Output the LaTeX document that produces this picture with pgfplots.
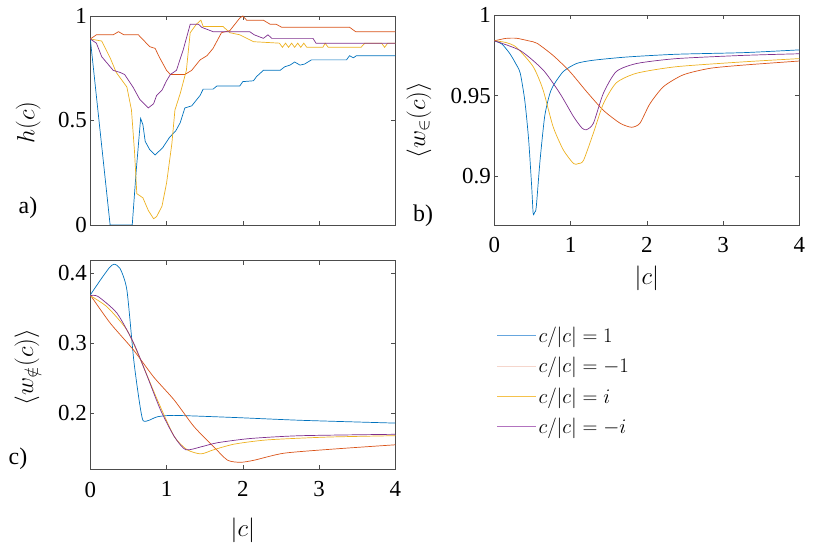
\documentclass[border=0pt]{standalone}
\usepackage{pgfplots}
\pgfplotsset{compat=1.18}
\usepackage{fontspec}
\setmainfont{Liberation Serif}
\definecolor{mblue}{rgb}{0,0.447,0.741}
\definecolor{mred}{rgb}{0.85,0.325,0.098}
\definecolor{myellow}{rgb}{0.929,0.694,0.125}
\definecolor{mpurple}{rgb}{0.494,0.184,0.556}
\definecolor{lblue}{rgb}{0.40,0.65,0.87}
\definecolor{lred}{rgb}{0.96,0.84,0.80}
\definecolor{lyellow}{rgb}{0.96,0.76,0.30}
\definecolor{lpurple}{rgb}{0.70,0.45,0.75}
\pgfplotsset{mystyle/.style={scale only axis, width=305bp, height=209bp,
  xmin=0, xmax=4, xtick={0,1,2,3,4}, anchor=south west,
  axis line style={black!70, line width=0.6bp},
  every tick/.style={black!70, line width=0.6bp}, major tick length=4bp,
  tick label style={font=\fontsize{23}{27}\selectfont},
  xticklabel style={yshift=-9bp},
  /pgf/number format/assume math mode=true,
  label style={font=\fontsize{27}{32}\selectfont},
  every axis plot/.append style={line width=0.7bp}}}

\pgfplotstableread{
x y
0 0.89
0.26 0.0
0.55 0.0
0.60 0.25
0.66 0.51
0.69 0.48
0.72 0.40
0.78 0.36
0.85 0.335
0.95 0.37
1.04 0.42
1.12 0.45
1.18 0.49
1.24 0.56
1.33 0.57
1.44 0.62
1.48 0.65
1.61 0.65
1.66 0.665
1.96 0.665
2.00 0.686
2.14 0.69
2.18 0.71
2.27 0.74
2.49 0.74
2.55 0.757
2.62 0.765
2.68 0.78
2.75 0.765
2.81 0.77
2.90 0.79
3.36 0.79
3.40 0.81
3.45 0.80
3.49 0.81
4.00 0.81
}\aBlue
\pgfplotstableread{
x y
0 0.89
0.08 0.91
0.30 0.91
0.37 0.925
0.44 0.91
0.63 0.91
0.78 0.853
0.85 0.845
0.91 0.80
1.00 0.74
1.05 0.72
1.24 0.72
1.33 0.74
1.44 0.79
1.53 0.81
1.61 0.845
1.72 0.92
1.83 0.93
1.96 0.99
2.00 1.00
2.05 0.98
2.27 0.98
2.36 0.96
2.44 0.96
2.51 0.946
3.40 0.946
3.48 0.925
4.00 0.925
}\aRed
\pgfplotstableread{
x y
0 0.89
0.15 0.88
0.26 0.80
0.34 0.73
0.48 0.66
0.54 0.55
0.58 0.35
0.61 0.15
0.69 0.13
0.76 0.07
0.83 0.03
0.87 0.04
0.94 0.09
1.00 0.20
1.07 0.39
1.11 0.55
1.18 0.63
1.26 0.74
1.31 0.92
1.39 0.96
1.45 0.98
1.48 0.95
1.74 0.95
1.83 0.92
1.96 0.91
2.14 0.877
2.48 0.87
2.52 0.85
2.56 0.87
2.60 0.85
2.64 0.87
2.68 0.85
2.72 0.87
2.76 0.85
2.80 0.87
2.84 0.85
3.05 0.85
3.08 0.87
3.12 0.85
3.55 0.85
3.60 0.87
3.82 0.87
3.86 0.85
3.90 0.87
4.00 0.87
}\aYellow
\pgfplotstableread{
x y
0 0.89
0.08 0.87
0.15 0.805
0.30 0.74
0.39 0.73
0.45 0.72
0.56 0.66
0.65 0.60
0.76 0.56
0.83 0.58
0.87 0.62
0.94 0.645
1.00 0.69
1.05 0.72
1.13 0.74
1.22 0.84
1.31 0.96
1.42 0.96
1.46 0.946
1.61 0.925
2.09 0.925
2.15 0.91
2.27 0.893
2.33 0.91
2.38 0.893
2.92 0.893
2.96 0.87
4.00 0.87
}\aPurple

\pgfplotstableread{
x y
0 0.984
0.10 0.982
0.205 0.976
0.28 0.970
0.34 0.964
0.40 0.947
0.45 0.923
0.49 0.894
0.51 0.877
0.53 0.878
0.55 0.881
0.60 0.910
0.66 0.937
0.72 0.950
0.77 0.956
0.905 0.965
1.08 0.970
1.30 0.972
1.74 0.974
2.39 0.9757
3.27 0.9767
4.00 0.9784
}\bBlue
\pgfplotstableread{
x y
0 0.984
0.15 0.9855
0.29 0.9856
0.45 0.984
0.56 0.9825
0.77 0.975
0.99 0.965
1.21 0.9526
1.43 0.941
1.65 0.933
1.80 0.9305
1.91 0.933
2.04 0.945
2.22 0.9557
2.48 0.963
2.83 0.967
3.27 0.969
4.00 0.9715
}\bRed
\pgfplotstableread{
x y
0 0.984
0.15 0.983
0.29 0.980
0.51 0.968
0.64 0.9536
0.77 0.931
0.905 0.9165
1.04 0.908
1.10 0.908
1.17 0.910
1.30 0.927
1.43 0.945
1.60 0.958
1.87 0.964
2.39 0.968
3.27 0.971
4.00 0.973
}\bYellow
\pgfplotstableread{
x y
0 0.984
0.34 0.978
0.64 0.966
0.86 0.9515
1.04 0.937
1.15 0.930
1.21 0.929
1.30 0.933
1.43 0.9515
1.60 0.965
1.87 0.970
2.39 0.973
3.27 0.975
4.00 0.976
}\bPurple

\pgfplotstableread{
x y
0 0.369
0.13 0.39
0.25 0.408
0.31 0.413
0.39 0.407
0.48 0.376
0.57 0.276
0.64 0.219
0.69 0.19
0.77 0.19
0.88 0.195
1.10 0.197
1.89 0.194
2.76 0.19
4.00 0.186
}\cBlue
\pgfplotstableread{
x y
0 0.369
0.26 0.329
0.57 0.29
0.83 0.252
1.10 0.219
1.36 0.181
1.62 0.152
1.80 0.133
1.97 0.130
2.15 0.133
2.54 0.143
3.20 0.149
4.00 0.155
}\cRed
\pgfplotstableread{
x y
0 0.368
0.22 0.352
0.48 0.319
0.66 0.276
0.88 0.219
1.10 0.167
1.27 0.148
1.45 0.142
1.62 0.148
1.89 0.156
2.32 0.162
3.10 0.166
4.00 0.168
}\cYellow
\pgfplotstableread{
x y
0 0.368
0.10 0.367
0.35 0.343
0.57 0.30
0.75 0.252
0.92 0.205
1.10 0.167
1.25 0.148
1.45 0.152
1.67 0.158
2.10 0.164
2.76 0.168
4.00 0.170
}\cPurple

\begin{document}
\begin{tikzpicture}[x=1bp,y=1bp]
\path[use as bounding box] (0,0) rectangle (830,546);
\coordinate (pa) at (90.3,321);
\coordinate (pb) at (494.3,321);
\coordinate (pc) at (90.3,76.7);

% panel a
\begin{axis}[mystyle, at={(pa)}, ymin=0, ymax=1, ytick={0,0.5,1},
  xticklabels={}, ylabel={$h(c)$},
  ylabel style={at={(axis description cs:-0.204,0.49)}, anchor=center}]
\addplot[mblue, sharp plot] table {\aBlue};
\addplot[mred, sharp plot] table {\aRed};
\addplot[myellow, sharp plot] table {\aYellow};
\addplot[mpurple, sharp plot] table {\aPurple};
\end{axis}

% panel b
\begin{axis}[mystyle, at={(pb)}, height=210bp, ymin=0.87, ymax=1,
  ytick={0.9,0.95,1}, ylabel={$\langle w_{\in}(c)\rangle$}, xlabel={$|c|$},
  ylabel style={at={(axis description cs:-0.247,0.5)}, anchor=center},
  xlabel style={at={(axis description cs:0.5,-0.252)}, anchor=center}]
\addplot[mblue, smooth, tension=0.4] table {\bBlue};
\addplot[mred, smooth, tension=0.4] table {\bRed};
\addplot[myellow, smooth, tension=0.4] table {\bYellow};
\addplot[mpurple, smooth, tension=0.4] table {\bPurple};
\end{axis}

% panel c
\begin{axis}[mystyle, at={(pc)}, height=208.6bp, ymin=0.12, ymax=0.418,
  ytick={0.2,0.3,0.4}, ylabel={$\langle w_{\notin}(c)\rangle$}, xlabel={$|c|$},
  ylabel style={at={(axis description cs:-0.208,0.49)}, anchor=center},
  xlabel style={at={(axis description cs:0.5,-0.291)}, anchor=center},
  legend style={at={(axis description cs:1.332,0.693)}, anchor=north west,
    draw=none, fill=none, font=\fontsize{21}{25}\selectfont, row sep=9.5bp,
    inner sep=0pt, legend cell align=left}]
\addplot[mblue, smooth, tension=0.4, forget plot] table {\cBlue};
\addplot[mred, smooth, tension=0.4, forget plot] table {\cRed};
\addplot[myellow, smooth, tension=0.4, forget plot] table {\cYellow};
\addplot[mpurple, smooth, tension=0.4, forget plot] table {\cPurple};
\addlegendimage{legend image code/.code={\draw[lblue, line width=0.8bp] (0bp,0bp) -- (39bp,0bp);}}
\addlegendentry{$c/|c|=1$}
\addlegendimage{legend image code/.code={\draw[lred, line width=0.8bp] (0bp,0bp) -- (39bp,0bp);}}
\addlegendentry{$c/|c|=-1$}
\addlegendimage{legend image code/.code={\draw[lyellow, line width=0.8bp] (0bp,0bp) -- (39bp,0bp);}}
\addlegendentry{$c/|c|=i$}
\addlegendimage{legend image code/.code={\draw[lpurple, line width=0.8bp] (0bp,0bp) -- (39bp,0bp);}}
\addlegendentry{$c/|c|=-i$}
\end{axis}

\node[font=\fontsize{24}{28}\selectfont] at (28,338) {a)};
\node[font=\fontsize{24}{28}\selectfont] at (423,330) {b)};
\node[font=\fontsize{24}{28}\selectfont] at (18,87) {c)};
\end{tikzpicture}
\end{document}
